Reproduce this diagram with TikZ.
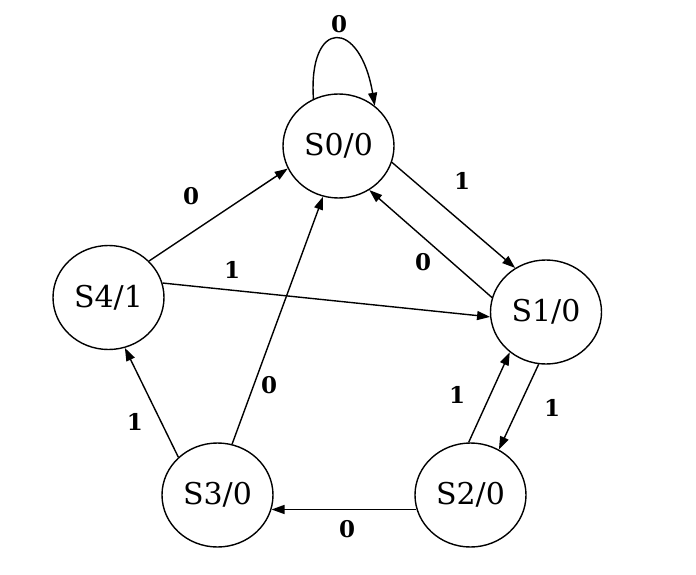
\documentclass[tikz,border=0pt]{standalone}
\usepackage{fontspec}
\setmainfont{DejaVu Serif}
\usetikzlibrary{shapes.geometric,arrows.meta}
\begin{document}
\begin{tikzpicture}[x=1pt,y=-1pt,
  state/.style={ellipse,draw,line width=1.4pt,minimum width=111pt,minimum height=104pt,inner sep=0pt,font=\fontsize{30}{31}\selectfont},
  trans/.style={line width=1.4pt,-{Triangle[length=13pt,width=9pt]}},
  lbl/.style={inner sep=0pt,font=\fontsize{23}{24}\selectfont\bfseries}]
\useasboundingbox (0,0) rectangle (696,575);
% states
\node[state] (S0) at (338.5,146) {S0/0};
\node[state] (S1) at (546,312) {S1/0};
\node[state] (S2) at (470.5,495) {S2/0};
\node[state] (S3) at (217.5,495) {S3/0};
\node[state] (S4) at (108.5,297.5) {S4/1};
% transitions
\draw[trans] (S0.118) .. controls (308,18) and (360,18) .. (S0.48);
\draw[trans] (S0.-17) -- (S1.125);
\draw[trans] (S1.165) -- (S0.-55.6);
\draw[trans] (S4.15) -- (S1.185);
\draw[trans] (S4.42) -- (S0.204);
\draw[trans] (S3.74) -- (S0.-107.5);
\draw[trans] (S3.136) -- (S4.-72.5);
\draw[trans] (S2.195) -- (S3.-15);
\draw[trans] (S2.92.7) -- (S1.228.5);
\draw[trans] (S1.262) -- (S2.58.4);
% input labels
\node[lbl] (l00) at (339,24) {0};
\node[lbl] (l01) at (462,181) {1};
\node[lbl] (l10) at (423,262) {0};
\node[lbl] (l41) at (232,270) {1};
\node[lbl] (l40) at (191,196) {0};
\node[lbl] (l30) at (269,385) {0};
\node[lbl] (l34) at (135,422) {1};
\node[lbl] (l23) at (347,529) {0};
\node[lbl] (l21) at (457,395) {1};
\node[lbl] (l12) at (552,408) {1};
\end{tikzpicture}
\end{document}
